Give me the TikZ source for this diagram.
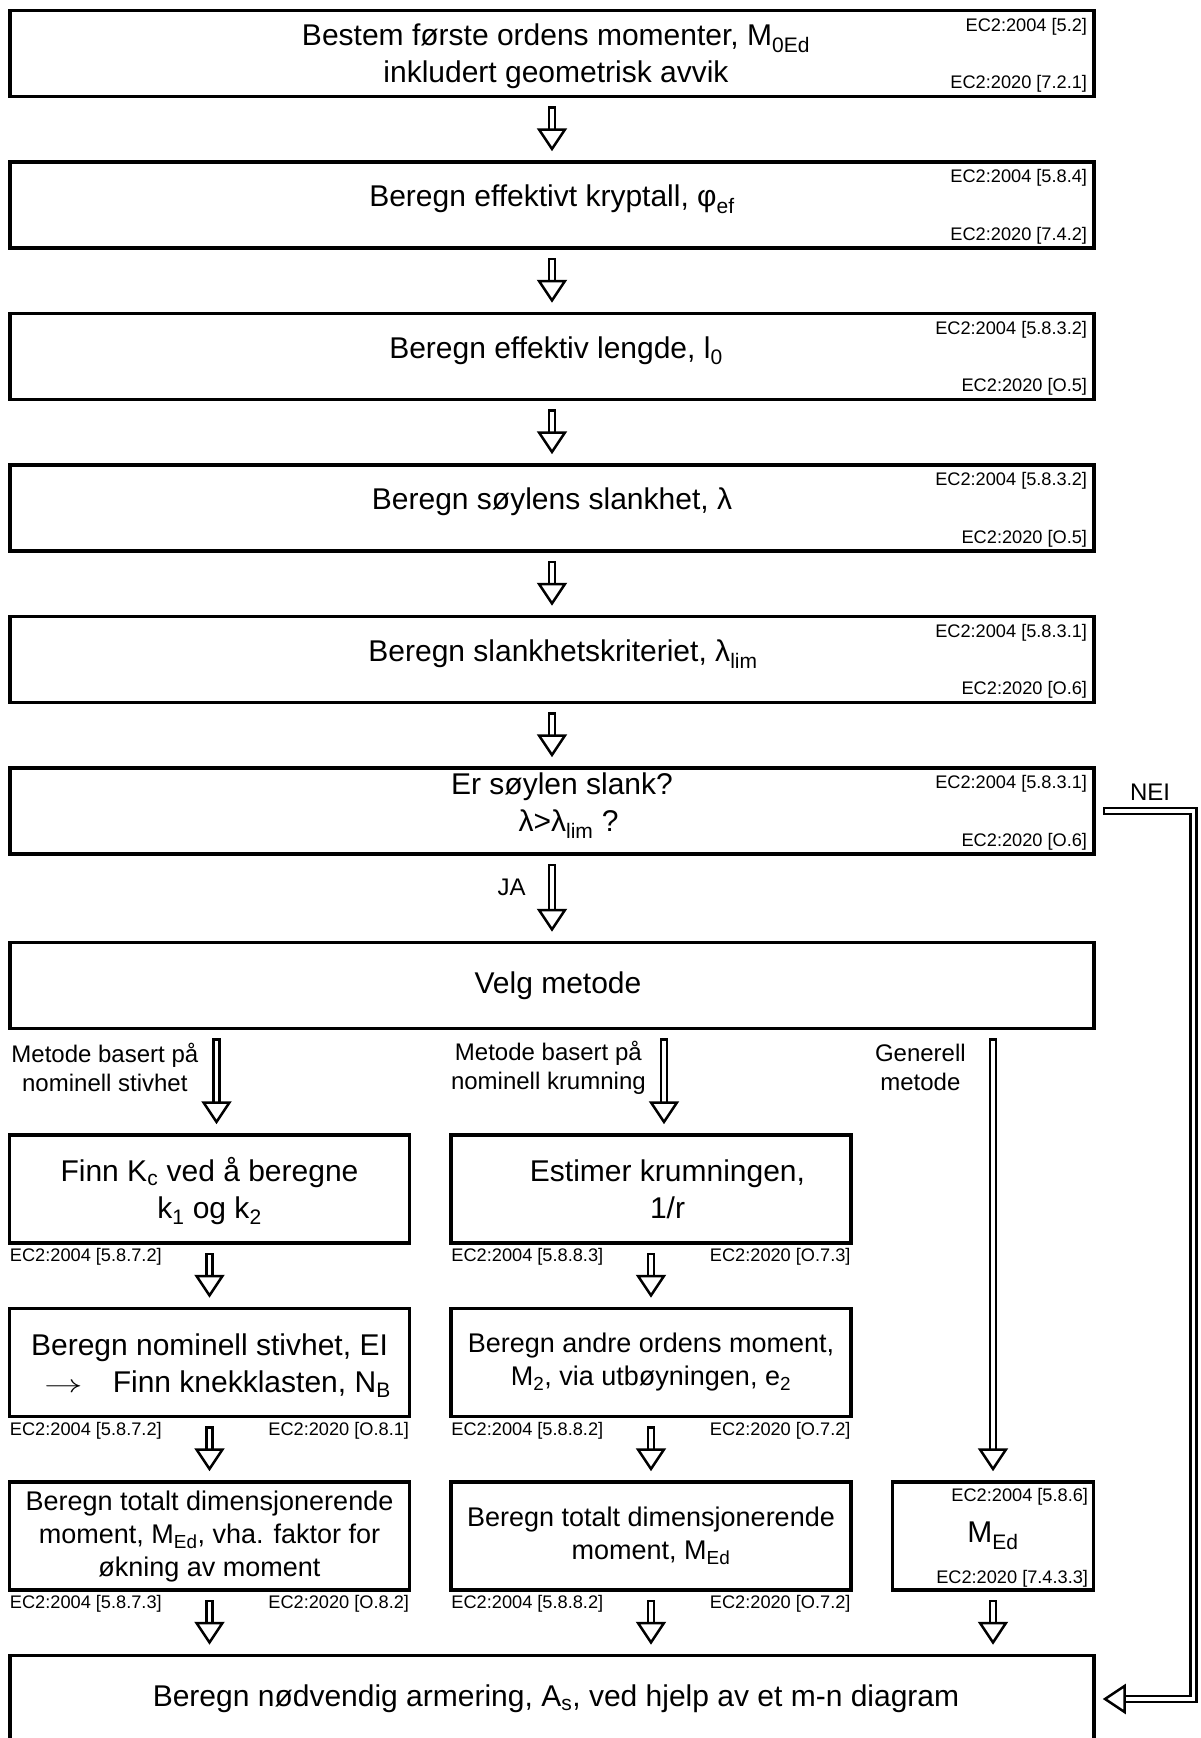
\documentclass[tikz,border=0pt]{standalone}
\usepackage{fontspec}
\setmainfont{Liberation Sans}
\usepackage{tikz}
\usetikzlibrary{positioning}
\usetikzlibrary{arrows.meta}

\newcommand\stepfont{\fontsize{30}{37}\selectfont}
\newcommand\smallstepfont{\fontsize{27}{33}\selectfont}
\newcommand\labelfont{\fontsize{24}{29}\selectfont}
\newcommand\reffont{\fontsize{18.2}{22}\selectfont}
\newcommand\lift{\rule[-18pt]{0pt}{0pt}}
\newcommand\drop{\rule{0pt}{28pt}}

\tikzset{
  stepbox/.style={draw, line width=3.5pt, align=center, inner sep=0pt},
  mainbox/.style={stepbox, minimum width=1084pt, minimum height=86pt, font=\stepfont},
  sidebox/.style={stepbox, minimum width=400pt, minimum height=108pt, font=\stepfont},
  refnote/.style={font=\reffont, text height=13pt, text depth=0pt, inner xsep=8.5pt, inner ysep=9.3pt},
  refout/.style={font=\reffont, text height=13pt, text depth=0pt, inner xsep=2pt, inner ysep=3.8pt},
  branchlabel/.style={font=\labelfont, align=center, inner sep=0pt},
  hollow/.style={double, double distance=3.5pt, line width=2.5pt, line cap=rect,
    -{Triangle[fill=white, width=30pt, length=23pt, line width=2.5pt]}},
  flowarrow/.style={hollow, shorten <=12pt, shorten >=9pt},
}

\begin{document}
\begin{tikzpicture}[x=1pt,y=-1pt,node distance=62pt]
\useasboundingbox (0,0) rectangle (1200,1738);

% hovedkolonne
\node[mainbox] (A) at (552,53.5) {\hspace*{8pt}Bestem første ordens momenter, M\textsubscript{0Ed}\drop\\\hspace*{8pt}inkludert geometrisk avvik};
\node[mainbox] (B) [below=of A] {Beregn effektivt kryptall, φ\textsubscript{ef}\lift};
\node[mainbox] (C) [below=of B] {\hspace*{8pt}Beregn effektiv lengde, l\textsubscript{0}\lift};
\node[mainbox] (D) [below=of C] {Beregn søylens slankhet, λ\lift};
\node[mainbox] (E) [below=of D] {\hspace*{22pt}Beregn slankhetskriteriet, λ\textsubscript{lim}\lift};
\node[mainbox] (F) [below=of E] {\hspace*{20pt}Er søylen slank?\\\hspace*{33pt}λ>λ\textsubscript{lim} ?\lift};
\node[mainbox] (G) [below=85pt of F] {\hspace*{12pt}Velg metode};

\node[refnote, anchor=north east] at (A.north east) {EC2:2004 [5.2]};
\node[refnote, anchor=south east] at (A.south east) {EC2:2020 [7.2.1]};
\node[refnote, anchor=north east] at (B.north east) {EC2:2004 [5.8.4]};
\node[refnote, anchor=south east] at (B.south east) {EC2:2020 [7.4.2]};
\node[refnote, anchor=north east] at (C.north east) {EC2:2004 [5.8.3.2]};
\node[refnote, anchor=south east] at (C.south east) {EC2:2020 [O.5]};
\node[refnote, anchor=north east] at (D.north east) {EC2:2004 [5.8.3.2]};
\node[refnote, anchor=south east] at (D.south east) {EC2:2020 [O.5]};
\node[refnote, anchor=north east] at (E.north east) {EC2:2004 [5.8.3.1]};
\node[refnote, anchor=south east] at (E.south east) {EC2:2020 [O.6]};
\node[refnote, anchor=north east] at (F.north east) {EC2:2004 [5.8.3.1]};
\node[refnote, anchor=south east] at (F.south east) {EC2:2020 [O.6]};

% metodene
\node[sidebox] (L1) at (209.5,1189) {Finn K\textsubscript{c} ved å beregne\drop\\k\textsubscript{1} og k\textsubscript{2}};
\node[sidebox] (M1) [right=38pt of L1] {\hspace*{33pt}Estimer krumningen,\\\hspace*{33pt}1/r};
\node[sidebox] (L2) [below=of L1] {Beregn nominell stivhet, EI\drop\\\hspace*{16pt}\scalebox{1.55}[1]{$\rightarrow$}\quad Finn knekklasten, N\textsubscript{B}};
\node[sidebox, font=\smallstepfont] (M2) [below=of M1] {Beregn andre ordens moment,\\M\textsubscript{2}, via utbøyningen, e\textsubscript{2}};
\node[sidebox, font=\smallstepfont] (L3) [below=of L2] {Beregn totalt dimensjonerende\\moment, M\textsubscript{Ed}, vha. faktor for\\økning av moment};
\node[sidebox, font=\smallstepfont] (M3) [below=of M2] {Beregn totalt dimensjonerende\\moment, M\textsubscript{Ed}};
\node[sidebox, minimum width=201pt] (R3) [right=38pt of M3] {M\textsubscript{Ed}};
\node[mainbox, minimum height=87pt] (H) at (552,1699) {\hspace*{8pt}Beregn nødvendig armering, A\textsubscript{s}, ved hjelp av et m-n diagram};

\node[refout, anchor=north west] at (L1.south west) {EC2:2004 [5.8.7.2]};
\node[refout, anchor=north west] at (M1.south west) {EC2:2004 [5.8.8.3]};
\node[refout, anchor=north east] at (M1.south east) {EC2:2020 [O.7.3]};
\node[refout, anchor=north west] at (L2.south west) {EC2:2004 [5.8.7.2]};
\node[refout, anchor=north east] at (L2.south east) {EC2:2020 [O.8.1]};
\node[refout, anchor=north west] at (M2.south west) {EC2:2004 [5.8.8.2]};
\node[refout, anchor=north east] at (M2.south east) {EC2:2020 [O.7.2]};
\node[refout, anchor=north west] at (L3.south west) {EC2:2004 [5.8.7.3]};
\node[refout, anchor=north east] at (L3.south east) {EC2:2020 [O.8.2]};
\node[refout, anchor=north west] at (M3.south west) {EC2:2004 [5.8.8.2]};
\node[refout, anchor=north east] at (M3.south east) {EC2:2020 [O.7.2]};
\node[refnote, inner xsep=7pt, inner ysep=8.5pt, anchor=north east] at (R3.north east) {EC2:2004 [5.8.6]};
\node[refnote, inner xsep=7pt, inner ysep=8.5pt, anchor=south east] at (R3.south east) {EC2:2020 [7.4.3.3]};

% piler
\draw[flowarrow] (A) -- (B);
\draw[flowarrow] (B) -- (C);
\draw[flowarrow] (C) -- (D);
\draw[flowarrow] (D) -- (E);
\draw[flowarrow] (E) -- (F);
\draw[flowarrow] (F) -- node[branchlabel, left=25pt, pos=0.37] {JA} (G);

\draw[flowarrow] ([xshift=7pt]L1.north |- G.south) -- node[branchlabel, left=17pt, pos=0.36] {Metode basert på\\nominell stivhet} ([xshift=7pt]L1.north);
\draw[flowarrow] ([xshift=13pt]M1.north |- G.south) -- node[branchlabel, left=17pt, pos=0.36] {Metode basert på\\nominell krumning} ([xshift=13pt]M1.north);
\draw[flowarrow] (R3.north |- G.south) -- node[branchlabel, left=26pt, pos=0.082] {Generell\\metode} (R3);

\draw[flowarrow] (L1) -- (L2);
\draw[flowarrow] (M1) -- (M2);
\draw[flowarrow] (L2) -- (L3);
\draw[flowarrow] (M2) -- (M3);
\draw[flowarrow] (L3.south) -- (L3.south |- H.north);
\draw[flowarrow] (M3.south) -- (M3.south |- H.north);
\draw[flowarrow] (R3.south) -- (R3.south |- H.north);

\draw[hollow, shorten >=7pt] ([xshift=11pt]F.east) -- node[branchlabel, above=9.5pt] {NEI} ++(86.5,0) |- (H.east);

\end{tikzpicture}
\end{document}
